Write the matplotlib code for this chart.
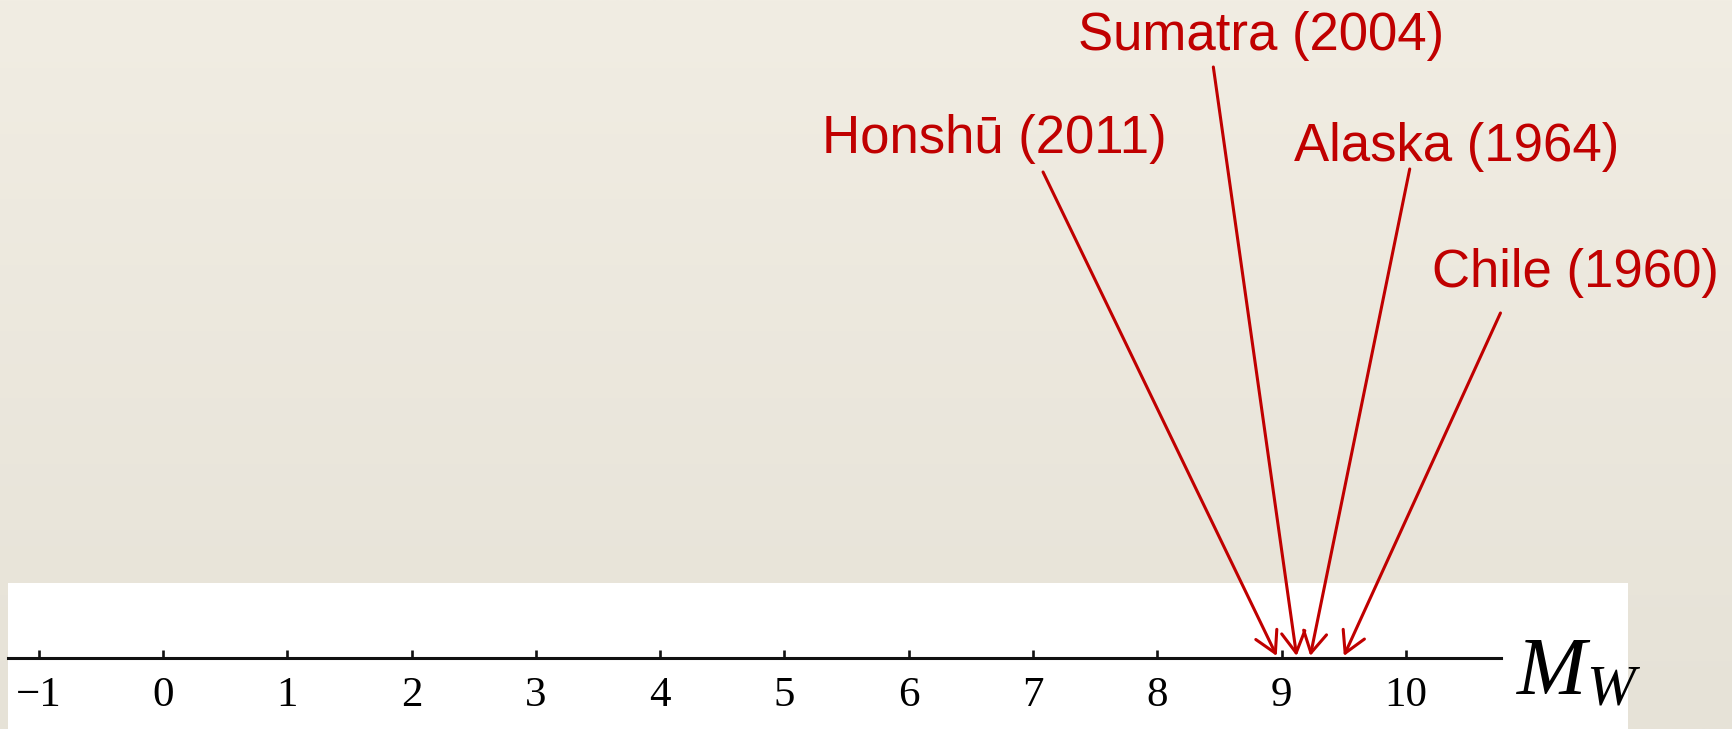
import numpy as np
import matplotlib
matplotlib.use("Agg")
import matplotlib.pyplot as plt
from matplotlib.patches import Rectangle

# Moment magnitude scale with the four biggest recorded earthquakes
TICKS = list(range(-1, 11))
QUAKES = ["Honshū (2011)", "Sumatra (2004)", "Alaska (1964)", "Chile (1960)"]
MAGNITUDES = [8.96, 9.12, 9.23, 9.5]

# Label placement (x in magnitude units, y in pixels above the axis line)
LABEL_X = [6.69, 8.83, 10.41, 11.36]
LABEL_Y = [505, 608, 497, 371]
TAIL_X = [7.08, 8.45, 10.03, 10.76]
TAIL_Y = [486, 591, 489, 345]

RED = "#C00000"
W, H = 1733, 729
PX_PER_UNIT = 124.3
ZERO_PX = 163          # pixel column of magnitude 0
LINE_LEFT, LINE_RIGHT = 8, 1501
LINE_Y = 658           # pixel row (from top) of the axis line

plt.rcParams["mathtext.fontset"] = "custom"
plt.rcParams["mathtext.rm"] = "Liberation Serif"
plt.rcParams["mathtext.it"] = "Liberation Serif:italic"

fig = plt.figure(figsize=(W / 100, H / 100), dpi=100)

# background: soft beige gradient plus white strip at the bottom
bg = fig.add_axes([0, 0, 1, 1], zorder=-1)
top_c = np.array([241, 237, 227]) / 255
bot_c = np.array([230, 226, 215]) / 255
t = np.linspace(0, 1, 256)[:, None, None]
grad = top_c * (1 - t) + bot_c * t
grad = np.repeat(grad, 2, axis=1)
bg.imshow(grad, aspect="auto", extent=[0, 1, 0, 1], origin="upper")
bg.add_patch(Rectangle((8 / W, 0), (1628 - 8) / W, (H - 583) / H, transform=bg.transAxes,
                       facecolor="white", edgecolor="none"))
bg.set_xlim(0, 1)
bg.set_ylim(0, 1)
bg.axis("off")

# number line axes: bottom spine is the line, y in pixels above it
ax = fig.add_axes([LINE_LEFT / W, (H - LINE_Y) / H, (LINE_RIGHT - LINE_LEFT) / W, LINE_Y / H])
ax.patch.set_visible(False)
ax.set_xlim((LINE_LEFT - ZERO_PX) / PX_PER_UNIT, (LINE_RIGHT - ZERO_PX) / PX_PER_UNIT)
ax.set_ylim(0, LINE_Y)
for side in ["top", "left", "right"]:
    ax.spines[side].set_visible(False)
ax.spines["bottom"].set_linewidth(2.2)
ax.spines["bottom"].set_color("#111111")
ax.set_yticks([])
ax.set_xticks(TICKS)
ax.set_xticklabels([f"{v}".replace("-", "\u2212") for v in TICKS], family="Liberation Serif", fontsize=31)
ax.tick_params(axis="x", direction="in", length=6, width=1.9, pad=13, color="#111111")

for name, mag, lx, ly, tx, ty in zip(QUAKES, MAGNITUDES, LABEL_X, LABEL_Y, TAIL_X, TAIL_Y):
    ax.text(lx, ly, name, color=RED, fontsize=38, family="Liberation Sans",
            ha="center", va="baseline", clip_on=False)
    ax.annotate("", xy=(mag, 2), xytext=(tx, ty), annotation_clip=False,
                arrowprops=dict(arrowstyle="->,head_length=0.75,head_width=0.42", mutation_scale=20,
                                color=RED, lw=2.2, shrinkA=0, shrinkB=0))

fig.text(1516 / W, (H - 694) / H, r"$M_W$", fontsize=60, ha="left", va="baseline")

fig.savefig("out.png", dpi=100)
